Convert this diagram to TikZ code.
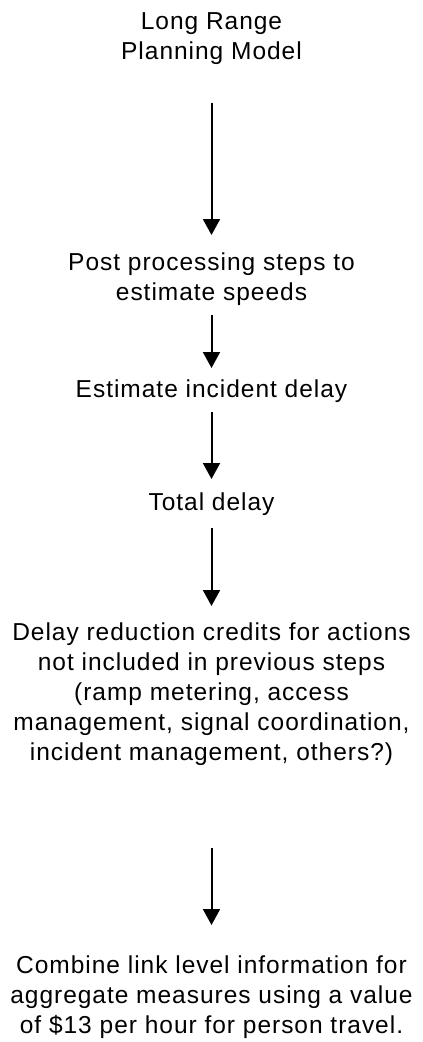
\documentclass[tikz,border=0pt]{standalone}
\usepackage{fontspec}
\setmainfont{Liberation Sans}[LetterSpace=4]
\usetikzlibrary{arrows.meta}
\begin{document}
\begin{tikzpicture}[x=1pt,y=1pt,
  lbl/.style={inner sep=0pt, outer sep=0pt, anchor=base, font=\fontsize{24.5}{30}\selectfont},
  arr/.style={line width=2pt, -{Triangle[width=17pt,length=16pt]}}]
\useasboundingbox[fill=white] (0,0) rectangle (423,-1042);
\node[lbl] (a) at (211.5,-29.5) {\begin{tabular}[t]{@{}c@{}}Long Range\\Planning Model\end{tabular}};
\node[lbl] (b) at (211.5,-270) {\begin{tabular}[t]{@{}c@{}}Post processing steps to\\estimate speeds\end{tabular}};
\node[lbl] (c) at (211.5,-397) {\begin{tabular}[t]{@{}c@{}}Estimate incident delay\end{tabular}};
\node[lbl] (d) at (211.5,-510) {\begin{tabular}[t]{@{}c@{}}Total delay\end{tabular}};
\node[lbl] (e) at (211.5,-640) {\begin{tabular}[t]{@{}c@{}}Delay reduction credits for actions\\not included in previous steps\\(ramp metering, access\\management, signal coordination,\\incident management, others?)\end{tabular}};
\node[lbl] (f) at (211.5,-973) {\begin{tabular}[t]{@{}c@{}}Combine link level information for\\aggregate measures using a value\\of \$13 per hour for person travel.\end{tabular}};
\draw[arr, shorten <=34.5pt, shorten >=14pt] (a.south) -- (b.north);
\draw[arr, shorten <=6pt, shorten >=8pt] (b.south) -- (c.north);
\draw[arr, shorten <=6pt, shorten >=10pt] (c.south) -- (d.north);
\draw[arr, shorten <=9pt, shorten >=13pt] (d.south) -- (e.north);
\draw[arr, shorten <=79pt, shorten >=27pt] (e.south) -- (f.north);
\end{tikzpicture}
\end{document}
